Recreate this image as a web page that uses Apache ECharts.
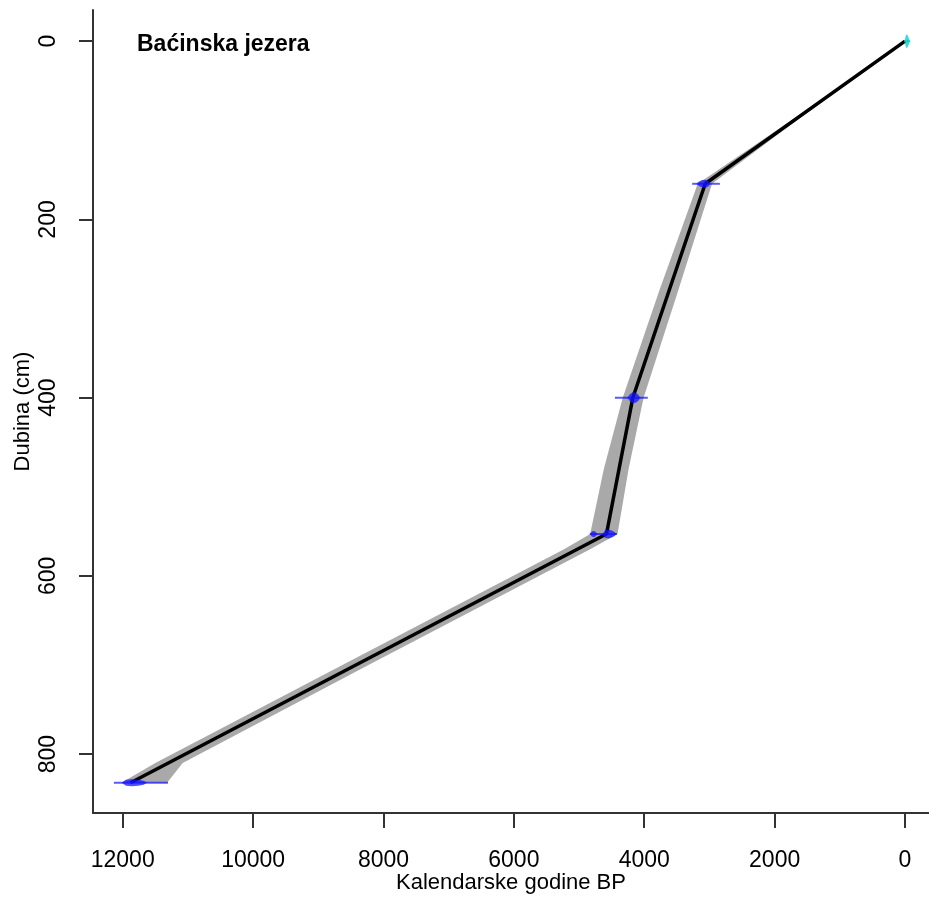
<!DOCTYPE html>
<html>
<head>
<meta charset="utf-8">
<script src="https://cdn.jsdelivr.net/npm/echarts@6/dist/echarts.min.js"></script>
<style>
html,body{margin:0;padding:0;background:#fff;}
#chart{width:929px;height:900px;}
</style>
</head>
<body>
<div id="chart"></div>
<script>
// ---- data ----
const title = 'Baćinska jezera';
const xTitle = 'Kalendarske godine BP';
const yTitle = 'Dubina (cm)';
const xTicks = [0, 2000, 4000, 6000, 8000, 10000, 12000];
const yTicks = [0, 200, 400, 600, 800];

// median age-depth model
const modelDepth = [0, 160, 400, 553, 832];
const modelAge = [0, 3065, 4175, 4580, 11880];

// 95% envelope (grey)
const bandDepth = [0, 80, 160, 280, 400, 480, 553, 570, 700, 810, 832];
const bandYoung = [0, 1500, 2960, 3480, 4010, 4240, 4410, 4830, 8230, 11080, 11320];
const bandOld   = [0, 1565, 3180, 3770, 4330, 4620, 4830, 5230, 8630, 11500, 12020];

// dated levels: depth, 95% range
const dateDepth = [160, 400, 553, 832];
const dateYoung = [2840, 3945, 4420, 11305];
const dateOld   = [3265, 4450, 4835, 12135];
// calibrated distributions [age, relative probability]
const dateDist = [
  [[3200,0],[3160,0.45],[3110,0.75],[3065,0.8],[3020,0.6],[2985,0]],
  [[4260,0],[4220,0.7],[4180,1.1],[4130,1.0],[4090,0.6],[4060,0]],
  [[4835,0],[4800,0.55],[4760,0.6],[4715,0],[4640,0],[4600,0.8],[4540,0.9],[4480,0.6],[4420,0]],
  [[12015,0],[11950,0.6],[11860,0.7],[11760,0.6],[11680,0.4],[11625,0]]
];
// surface date (cyan)
const surfDepth = 0;
const surfDist = [[10,0],[-15,1.2],[-30,1.4],[-50,0.9],[-75,0]];
const surfRange = [10, -80];

// ---- chart ----
const FONT = "'Liberation Sans', Arial, sans-serif";
const BLOB = 5; // px per unit probability
const axisCol = '#333';

function blobPoly(api, dist, depth) {
  const top = [], bot = [];
  dist.forEach(([a, p]) => {
    const c = api.coord([a, depth]);
    top.push([c[0], c[1] - p * BLOB]);
    bot.unshift([c[0], c[1] + p * BLOB]);
  });
  return top.concat(bot);
}

const chart = echarts.init(document.getElementById('chart'), null, {renderer: 'canvas'});
chart.setOption({
  animation: false,
  backgroundColor: '#fff',
  title: {
    text: title, left: 137, top: 33, padding: 0,
    textStyle: {fontFamily: FONT, fontSize: 23, fontWeight: 'bold', color: '#000'}
  },
  grid: {left: 93, right: 0, top: 10, bottom: 87, containLabel: false},
  xAxis: {
    type: 'value', inverse: true, min: -368, max: 12456,
    name: xTitle, nameLocation: 'middle', nameGap: 59, nameMoveOverlap: false,
    nameTextStyle: {fontFamily: FONT, fontSize: 22, color: '#000'},
    axisLine: {show: true, onZero: false, lineStyle: {color: axisCol, width: 2}},
    axisTick: {show: true, inside: false, length: 15, customValues: xTicks, lineStyle: {color: axisCol, width: 2}},
    axisLabel: {customValues: xTicks, margin: 36, fontFamily: FONT, fontSize: 23, color: '#000',
                hideOverlap: false, formatter: v => String(v)},
    splitLine: {show: false}
  },
  yAxis: {
    type: 'value', inverse: true, min: -35, max: 866,
    name: yTitle, nameLocation: 'middle', nameGap: 59, nameMoveOverlap: false,
    nameTextStyle: {fontFamily: FONT, fontSize: 22, color: '#000'},
    axisLine: {show: true, onZero: false, lineStyle: {color: axisCol, width: 2}},
    axisTick: {show: true, inside: false, length: 14, customValues: yTicks, lineStyle: {color: axisCol, width: 2}},
    axisLabel: {customValues: yTicks, rotate: 90, margin: 33, fontFamily: FONT, fontSize: 23, color: '#000',
                hideOverlap: false, formatter: v => String(v)},
    splitLine: {show: false}
  },
  series: [
    {
      type: 'custom', name: 'envelope', silent: true, z: 1,
      data: [[bandYoung[bandYoung.length-1], bandDepth[bandDepth.length-1]]],
      encode: {x: 0, y: 1},
      renderItem: function (params, api) {
        const pts = [];
        for (let i = 0; i < bandDepth.length; i++) pts.push(api.coord([bandYoung[i], bandDepth[i]]));
        for (let i = bandDepth.length - 1; i >= 0; i--) pts.push(api.coord([bandOld[i], bandDepth[i]]));
        return {type: 'polygon', shape: {points: pts}, style: {fill: '#a9a9a9', stroke: null}};
      }
    },
    {
      type: 'line', name: 'model', z: 2, silent: true,
      data: modelDepth.map((d, i) => [modelAge[i], d]),
      symbol: 'none', lineStyle: {color: '#000', width: 3.5}
    },
    {
      type: 'custom', name: 'dates', silent: true, z: 3,
      data: dateDepth.map((d, i) => [dateYoung[i], dateOld[i], d]),
      encode: {x: [0, 1], y: 2},
      renderItem: function (params, api) {
        const i = params.dataIndex;
        const a = api.coord([api.value(0), api.value(2)]);
        const b = api.coord([api.value(1), api.value(2)]);
        return {
          type: 'group',
          children: [
            {type: 'line', shape: {x1: a[0], y1: a[1], x2: b[0], y2: b[1]},
             style: {stroke: 'rgba(0,0,255,0.65)', lineWidth: 2}},
            {type: 'polygon', shape: {points: blobPoly(api, dateDist[i], dateDepth[i])},
             style: {fill: 'rgba(20,20,255,0.75)', stroke: null}}
          ]
        };
      }
    },
    {
      type: 'custom', name: 'surface', silent: true, z: 3,
      data: [[surfRange[0], surfRange[1], surfDepth]],
      encode: {x: [0, 1], y: 2},
      renderItem: function (params, api) {
        const a = api.coord([api.value(0), api.value(2)]);
        const b = api.coord([api.value(1), api.value(2)]);
        return {
          type: 'group',
          children: [
            {type: 'line', shape: {x1: a[0], y1: a[1], x2: b[0], y2: b[1]},
             style: {stroke: 'rgba(0,190,190,0.7)', lineWidth: 2}},
            {type: 'polygon', shape: {points: blobPoly(api, surfDist, surfDepth)},
             style: {fill: 'rgba(0,200,200,0.75)', stroke: null}}
          ]
        };
      }
    }
  ]
});
</script>
</body>
</html>
